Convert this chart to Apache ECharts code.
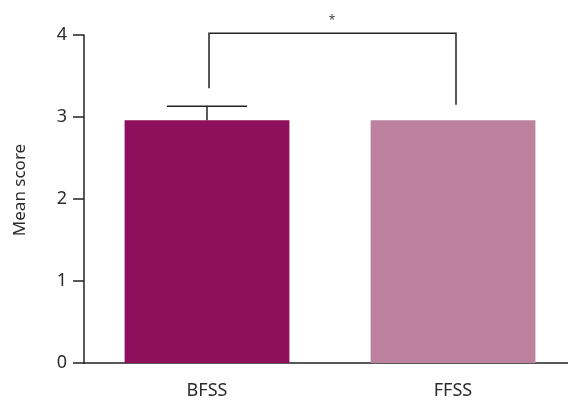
<!DOCTYPE html>
<html>
<head>
<meta charset="utf-8">
<script src="https://cdn.jsdelivr.net/npm/echarts@6/dist/echarts.min.js"></script>
<style>
  html, body { margin: 0; padding: 0; background: #fff; overflow: hidden; width: 568px; height: 400px; }
  /* the plot runs a few pixels past the right edge of the page */
  #chart { width: 576px; height: 400px; }
</style>
</head>
<body>
<div id="chart"></div>
<script>
// Groups and their mean scores
const categories = ['BFSS', 'FFSS'];
const meanScores = [2.96, 2.96];
const errorUpper = [3.13, null];          // upper end of the SD whisker
const barColors = ['#8e0f5b', '#bc819e'];

// Significance bracket: leg ends for each group, bar height, marker
const bracketLegEnds = [3.35, 3.15];
const bracketTop = 4.02;
const bracketMark = '*';

const yTicks = [0, 1, 2, 3, 4];
const yTitle = 'Mean score';

const textColor = '#2b2b2b';
const lineColor = '#222';
const fontFamily = '"Noto Sans", "Open Sans", sans-serif';

const chart = echarts.init(document.getElementById('chart'), null, { renderer: 'canvas' });

chart.setOption({
  animation: false,
  grid: { left: 84, right: 0, top: 35, bottom: 37, containLabel: false },
  // rotated y-axis title, sitting a little above the middle of the axis
  graphic: [{
    type: 'text',
    x: 20,
    y: 190,
    rotation: Math.PI / 2,
    style: {
      text: yTitle,
      align: 'center',
      verticalAlign: 'middle',
      fill: textColor,
      font: '17px ' + fontFamily
    }
  }],
  xAxis: {
    type: 'category',
    data: categories,
    axisLine: { lineStyle: { color: lineColor, width: 1.5 } },
    axisTick: { alignWithLabel: true, length: 12, lineStyle: { color: lineColor, width: 1.5 } },
    axisLabel: { color: textColor, fontSize: 18, fontFamily: fontFamily, margin: 19 }
  },
  yAxis: {
    type: 'value',
    min: yTicks[0],
    max: yTicks[yTicks.length - 1],
    interval: 1,
    splitLine: { show: false },
    axisLine: { show: true, lineStyle: { color: lineColor, width: 1.5 } },
    axisTick: { show: true, length: 11, lineStyle: { color: lineColor, width: 1.5 } },
    axisLabel: { color: textColor, fontSize: 18, fontFamily: fontFamily, margin: 17 }
  },
  series: [
    {
      type: 'bar',
      barWidth: '67%',
      data: meanScores.map((v, i) => ({ value: v, itemStyle: { color: barColors[i] } })),
      z: 2
    },
    {
      // SD whisker with a horizontal cap
      type: 'custom',
      z: 1,
      clip: false,
      data: categories.map((c, i) => [i, meanScores[i], errorUpper[i]]).filter(d => d[2] != null),
      renderItem: function (params, api) {
        const base = api.coord([api.value(0), api.value(1)]);
        const top = api.coord([api.value(0), api.value(2)]);
        const half = 40;
        const style = { stroke: lineColor, lineWidth: 1.5 };
        return {
          type: 'group',
          children: [
            { type: 'line', shape: { x1: base[0], y1: base[1], x2: top[0], y2: top[1] }, style: style },
            { type: 'line', shape: { x1: top[0] - half, y1: top[1], x2: top[0] + half, y2: top[1] }, style: style }
          ]
        };
      }
    },
    {
      // Significance bracket between the two groups
      type: 'custom',
      z: 3,
      clip: false,
      data: [[0, 1, bracketLegEnds[0], bracketLegEnds[1], bracketTop]],
      renderItem: function (params, api) {
        const l0 = api.coord([api.value(0), api.value(2)]);
        const r0 = api.coord([api.value(1), api.value(3)]);
        const lt = api.coord([api.value(0), api.value(4)]);
        const rt = api.coord([api.value(1), api.value(4)]);
        const style = { stroke: lineColor, lineWidth: 1.5, fill: null };
        return {
          type: 'group',
          children: [
            {
              type: 'polyline',
              shape: { points: [[l0[0] + 2, l0[1]], [lt[0] + 2, lt[1]], [rt[0] + 3, rt[1]], [r0[0] + 3, r0[1]]] },
              style: style
            },
            {
              type: 'text',
              style: {
                text: bracketMark,
                x: (lt[0] + rt[0]) / 2 + 2,
                y: lt[1] - 7,
                align: 'center',
                verticalAlign: 'bottom',
                fill: '#444',
                font: '12px ' + fontFamily
              }
            }
          ]
        };
      }
    }
  ]
});
</script>
</body>
</html>
